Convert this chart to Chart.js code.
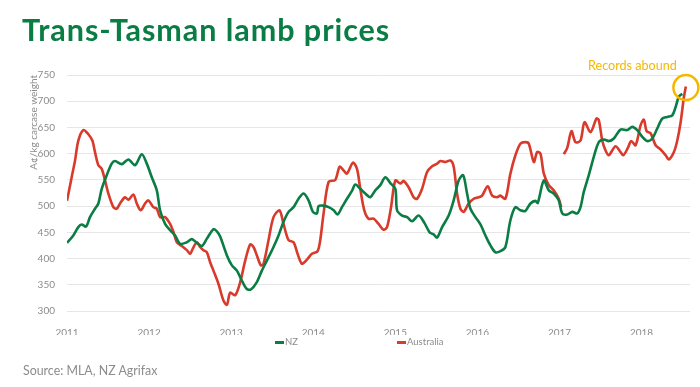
<!DOCTYPE html>
<html>
<head>
<meta charset="utf-8">
<script src="https://cdn.jsdelivr.net/npm/chart.js@4/dist/chart.umd.min.js"></script>
<style>
  body { margin: 0; width: 700px; height: 387px; background: #fff; position: relative; overflow: hidden; font-family: Lato, sans-serif; }
  #box { position: absolute; left: 0; top: 0; width: 700px; height: 387px; }
  #title { position: absolute; left: 22px; top: 14px; font-size: 30.5px; line-height: 30px; font-weight: 700; letter-spacing: 0.95px; color: #0a7d45; white-space: nowrap; }
  #note { position: absolute; left: 588px; top: 59px; font-size: 12.6px; line-height: 13px; color: #f5b800; white-space: nowrap; }
  #source { position: absolute; left: 23px; top: 364px; font-size: 12.4px; line-height: 13px; color: #8c8c8c; white-space: nowrap; }
  .leg { position: absolute; top: 336px; font-size: 9.5px; line-height: 12px; color: #8c8c8c; white-space: nowrap; }
  .leg i { display: inline-block; width: 9px; height: 2.5px; vertical-align: middle; margin-right: 1px; }
</style>
</head>
<body>
<div id="box"><canvas id="grafico" width="700" height="387"></canvas></div>
<div id="title">Trans-Tasman lamb prices</div>
<div id="note">Records abound</div>
<div class="leg" style="left:275px"><i style="background:#0a7d45"></i>NZ</div>
<div class="leg" style="left:397px"><i style="background:#d83a2b"></i>Australia</div>
<div id="source">Source: MLA, NZ Agrifax</div>
<script>
const yearTicks = [2011, 2012, 2013, 2014, 2015, 2016, 2017, 2018]

// NZ lamb, A¢/kg cwt
const nzDates = [
  2011.00, 2011.077, 2011.138, 2011.179, 2011.232, 2011.280, 2011.341, 2011.382, 2011.423, 2011.484,
  2011.545, 2011.585, 2011.667, 2011.748, 2011.829, 2011.911, 2011.972, 2012.033, 2012.094, 2012.134,
  2012.195, 2012.256, 2012.317, 2012.378, 2012.460, 2012.521, 2012.582, 2012.643, 2012.704, 2012.784,
  2012.826, 2012.866, 2012.948, 2013.009, 2013.070, 2013.130, 2013.191, 2013.240, 2013.313, 2013.374,
  2013.435, 2013.516, 2013.577, 2013.638, 2013.699, 2013.760, 2013.821, 2013.882, 2013.943, 2013.996,
  2014.045, 2014.065, 2014.126, 2014.187, 2014.248, 2014.296, 2014.350, 2014.411, 2014.472, 2014.512,
  2014.573, 2014.634, 2014.695, 2014.756, 2014.817, 2014.878, 2014.939, 2015.000, 2015.021, 2015.082,
  2015.143, 2015.204, 2015.284, 2015.354, 2015.418, 2015.467, 2015.509, 2015.570, 2015.650, 2015.711,
  2015.772, 2015.826, 2015.874, 2015.915, 2015.976, 2016.037, 2016.098, 2016.159, 2016.220, 2016.280,
  2016.341, 2016.402, 2016.463, 2016.524, 2016.585, 2016.646, 2016.707, 2016.735, 2016.809, 2016.870,
  2016.930, 2016.991, 2017.033, 2017.094, 2017.155, 2017.216, 2017.256, 2017.296, 2017.357, 2017.418,
  2017.479, 2017.540, 2017.601, 2017.662, 2017.744, 2017.825, 2017.886, 2017.947, 2018.009, 2018.069,
  2018.130, 2018.191, 2018.252, 2018.313, 2018.374, 2018.415, 2018.455, 2018.496
]
const nzPrices = [
  430, 444, 460, 465, 461, 479, 495, 505, 533, 559,
  581, 586, 580, 589, 578, 599, 581, 555, 530, 492,
  466, 454, 444, 428, 431, 437, 430, 424, 438, 456,
  452, 442, 406, 387, 377, 358, 342, 341, 355, 377,
  396, 422, 444, 470, 489, 498, 514, 524, 511, 489,
  486, 500, 501, 498, 492, 484, 498, 514, 529, 541,
  533, 524, 517, 530, 540, 555, 544, 533, 492, 482,
  479, 471, 482, 468, 450, 446, 440, 460, 482, 511,
  549, 559, 524, 495, 479, 465, 444, 425, 412, 414,
  422, 473, 498, 492, 491, 505, 510, 506, 549, 530,
  524, 511, 486, 484, 489, 486, 498, 527, 559, 594,
  622, 627, 624, 629, 646, 645, 651, 645, 632, 624,
  629, 648, 667, 670, 673, 689, 709, 714
]

// Australian lamb, A¢/kg cwt (null = gap in the series)
const auDates = [
  2011.00, 2011.057, 2011.098, 2011.138, 2011.199, 2011.260, 2011.309, 2011.341, 2011.382, 2011.423,
  2011.463, 2011.504, 2011.565, 2011.606, 2011.646, 2011.707, 2011.748, 2011.809, 2011.850, 2011.899,
  2011.951, 2011.991, 2012.052, 2012.094, 2012.134, 2012.195, 2012.256, 2012.296, 2012.338, 2012.399,
  2012.460, 2012.500, 2012.533, 2012.582, 2012.622, 2012.662, 2012.704, 2012.744, 2012.784, 2012.845,
  2012.906, 2012.948, 2012.988, 2013.049, 2013.110, 2013.171, 2013.232, 2013.272, 2013.313, 2013.362,
  2013.394, 2013.455, 2013.516, 2013.589, 2013.638, 2013.699, 2013.760, 2013.809, 2013.862, 2013.923,
  2013.984, 2014.052, 2014.085, 2014.126, 2014.187, 2014.268, 2014.321, 2014.370, 2014.411, 2014.484,
  2014.533, 2014.573, 2014.622, 2014.674, 2014.735, 2014.796, 2014.857, 2014.899, 2014.948, 2015.000,
  2015.061, 2015.101, 2015.162, 2015.223, 2015.265, 2015.326, 2015.387, 2015.448, 2015.509, 2015.549,
  2015.610, 2015.671, 2015.711, 2015.752, 2015.793, 2015.833, 2015.894, 2015.955, 2016.016, 2016.057,
  2016.126, 2016.179, 2016.240, 2016.280, 2016.341, 2016.402, 2016.463, 2016.524, 2016.585, 2016.626,
  2016.687, 2016.728, 2016.768, 2016.809, 2016.870, 2016.930, 2016.991, 2017.021, 2017.036, 2017.052,
  2017.094, 2017.146, 2017.195, 2017.256, 2017.305, 2017.378, 2017.451, 2017.479, 2017.521, 2017.561,
  2017.601, 2017.630, 2017.683, 2017.735, 2017.777, 2017.833, 2017.874, 2017.927, 2017.988, 2018.028,
  2018.061, 2018.110, 2018.171, 2018.232, 2018.293, 2018.333, 2018.394, 2018.435, 2018.476, 2018.516,
  2018.540
]
const auPrices = [
  510, 555, 587, 625, 645, 637, 625, 603, 578, 571,
  549, 524, 498, 495, 505, 517, 512, 522, 505, 492,
  505, 511, 498, 495, 479, 479, 466, 451, 431, 424,
  416, 409, 419, 431, 422, 416, 412, 393, 377, 352,
  320, 312, 335, 330, 355, 396, 427, 422, 406, 387,
  390, 435, 479, 492, 466, 435, 431, 409, 390, 398,
  409, 414, 435, 486, 546, 550, 575, 568, 562, 583,
  571, 533, 492, 476, 476, 466, 455, 460, 498, 549,
  543, 548, 536, 517, 514, 533, 565, 576, 581, 586,
  584, 587, 575, 524, 495, 489, 505, 514, 517, 520,
  538, 520, 517, 520, 514, 562, 597, 619, 622, 619,
  584, 603, 600, 562, 540, 530, 514, 498, null, 599,
  611, 643, 622, 625, 660, 641, 667, 664, 625, 606,
  597, 603, 614, 605, 597, 611, 624, 616, 654, 665,
  643, 639, 616, 608, 597, 589, 603, 625, 660, 708,
  728
]

// where the "Records abound" circle sits
const recordAt = [2018.54, 726]

const toPoints = (xs, ys) => xs.map((x, i) => ({ x: x, y: ys[i] }))

const tickFont = { family: 'Lato', size: 10 }
const gray = '#8c8c8c'

// ⭕ circle round the latest records
const recordCircle = {
    id: 'recordCircle',
    afterDatasetsDraw(chart) {
        const { ctx, scales } = chart
        const cx = scales.x.getPixelForValue(recordAt[0])
        const cy = scales.y.getPixelForValue(recordAt[1])
        ctx.save()
        ctx.beginPath()
        ctx.arc(cx, cy, 12.5, 0, Math.PI * 2)
        ctx.strokeStyle = '#f5b800'
        ctx.lineWidth = 2.5
        ctx.stroke()
        ctx.restore()
    }
}

new Chart(document.getElementById('grafico'), {
    type: 'line',
    data: {
        datasets: [
            {
                label: 'NZ',
                data: toPoints(nzDates, nzPrices),
                borderColor: '#0a7d45',
                borderWidth: 2.6,
                pointRadius: 0,
                tension: 0.3,
                fill: false
            },
            {
                label: 'Australia',
                data: toPoints(auDates, auPrices),
                borderColor: '#d83a2b',
                borderWidth: 2.6,
                pointRadius: 0,
                tension: 0.3,
                spanGaps: false,
                fill: false
            }
        ]
    },
    options: {
        responsive: false,
        animation: false,
        layout: { padding: { left: 22, top: 75, right: 10, bottom: 52 } },
        plugins: {
            legend: { display: false },
            tooltip: { enabled: false }
        },
        scales: {
            x: {
                type: 'linear',
                min: 2011,
                max: 2018.59,
                grid: { display: false },
                border: { display: false },
                afterBuildTicks: s => { s.ticks = yearTicks.map(v => ({ value: v })) },
                afterFit: s => { s.height = 24 },
                ticks: {
                    padding: 8,
                    color: gray,
                    font: tickFont,
                    maxRotation: 0,
                    autoSkip: false,
                    callback: v => String(v)
                }
            },
            y: {
                min: 300,
                max: 750,
                grid: { color: '#e6e6e6', drawTicks: false },
                border: { display: false },
                afterFit: s => { s.width = 45 },
                ticks: { stepSize: 50, padding: 12, color: gray, font: tickFont },
                title: {
                    display: true,
                    text: 'A¢/kg carcase weight',
                    align: 'end',
                    color: gray,
                    font: { family: 'Lato', size: 10 },
                    padding: { top: 6, bottom: 0 }
                }
            }
        }
    },
    plugins: [recordCircle]
})
</script>
</body>
</html>
